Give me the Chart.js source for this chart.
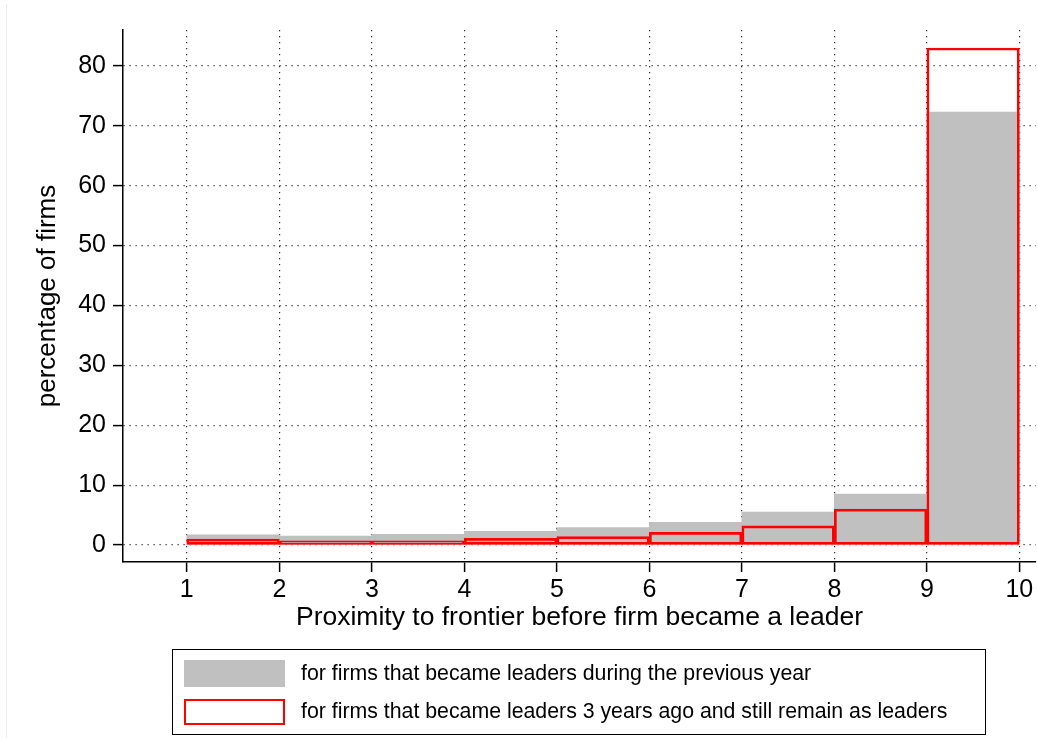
<!DOCTYPE html>
<html>
<head>
<meta charset="utf-8">
<script src="https://cdn.jsdelivr.net/npm/chart.js@4.4.0/dist/chart.umd.min.js"></script>
<style>
  html, body { margin: 0; padding: 0; background: #fff; }
  #wrap { position: relative; width: 1037px; height: 738px; overflow: hidden; font-family: Arial, "Liberation Sans", sans-serif; }
  #frame { position: absolute; left: 6px; top: 4px; width: 1px; height: 740px; background: #e6eff1; }
  #chart { position: absolute; left: 0; top: 0; }
  #legend { position: absolute; left: 172px; top: 649px; width: 814px; height: 86px; border: 1.5px solid #000; box-sizing: border-box; }
  .item { position: absolute; left: 0; height: 27px; display: flex; align-items: center; }
  .swatch { width: 101px; height: 27px; margin-left: 11px; box-sizing: border-box; }
  .item span { margin-left: 16px; font-size: 21.3px; color: #000; white-space: nowrap; }
</style>
</head>
<body>
<div id="wrap">
  <div id="frame"></div>
  <canvas id="chart" width="1037" height="738"></canvas>
  <div id="legend"></div>
</div>
<script>
// histogram bins (left edges), each bin is 1 wide
const binStarts = [1, 2, 3, 4, 5, 6, 7, 8, 9];
const prevYear = [1.7, 1.5, 1.8, 2.3, 2.9, 3.8, 5.5, 8.5, 72.3];
const threeYears = [1.0, 0.7, 0.7, 1.1, 1.4, 2.1, 3.2, 6.0, 83.0];

const xTicks = [1, 2, 3, 4, 5, 6, 7, 8, 9, 10];
const yTicks = [0, 10, 20, 30, 40, 50, 60, 70, 80];

const labelPrev = "for firms that became leaders during the previous year";
const labelThree = "for firms that became leaders 3 years ago and still remain as leaders";

const GRAY = "#c0c0c0";
const RED = "#ff0000";
const FONT = "Arial, Liberation Sans, sans-serif";

const toPoints = vals => binStarts.map((b, i) => ({ x: b + 0.5, y: vals[i] }));

const gridStyle = {
  color: "#2e2e2e",
  lineWidth: 1.2,
  drawTicks: true,
  tickLength: 10,
  tickColor: "#000",
  tickWidth: 1.5,
  tickBorderDash: [],
  offset: false
};
// in v4 border.dash is what dashes the grid lines
const borderStyle = { display: true, color: "#000", width: 1.5, dash: [1.2, 4.8] };

new Chart(document.getElementById("chart").getContext("2d"), {
  type: "bar",
  data: {
    datasets: [
      {
        label: labelPrev,
        data: toPoints(prevYear),
        backgroundColor: GRAY,
        borderWidth: 0,
        order: 2
      },
      {
        label: labelThree,
        data: toPoints(threeYears),
        backgroundColor: "rgba(0,0,0,0)",
        borderColor: RED,
        borderWidth: 2,
        borderSkipped: false,
        order: 1
      }
    ]
  },
  options: {
    responsive: false,
    animation: false,
    grouped: false,
    barPercentage: 1,
    categoryPercentage: 1,
    layout: { padding: { top: 30, right: 1, left: 0, bottom: 86 } },
    plugins: { legend: { display: false }, tooltip: { enabled: false } },
    scales: {
      x: {
        type: "linear",
        min: 0.31,
        max: 10.18,
        offset: false,
        afterBuildTicks: s => { s.ticks = xTicks.map(v => ({ value: v })); },
        afterFit: s => { s.height = 90; },
        grid: gridStyle,
        border: borderStyle,
        ticks: { color: "#000", padding: 3, maxRotation: 0, autoSkip: false, font: { family: FONT, size: 25 } },
        title: {
          display: true,
          text: "Proximity to frontier before firm became a leader",
          color: "#000",
          font: { family: FONT, size: 26.5 },
          padding: { top: 0, bottom: 18 }
        }
      },
      y: {
        min: -2.84,
        max: 86,
        afterBuildTicks: s => { s.ticks = yTicks.map(v => ({ value: v })); },
        afterFit: s => { s.width = 123; },
        grid: gridStyle,
        border: borderStyle,
        ticks: { color: "#000", padding: 7, font: { family: FONT, size: 25 } },
        title: {
          display: true,
          text: "percentage of firms",
          color: "#000",
          font: { family: FONT, size: 26 },
          padding: { top: 32, bottom: 0 }
        }
      }
    }
  }
});

// legend box below the plot
const legend = document.getElementById("legend");
[
  { text: labelPrev, top: 10, style: "background:" + GRAY },
  { text: labelThree, top: 48, style: "border:2px solid " + RED + ";background:#fff;height:26px" }
].forEach(it => {
  const row = document.createElement("div");
  row.className = "item";
  row.style.top = it.top + "px";
  row.innerHTML = `<div class="swatch" style="${it.style}"></div><span>${it.text}</span>`;
  legend.appendChild(row);
});
</script>
</body>
</html>
